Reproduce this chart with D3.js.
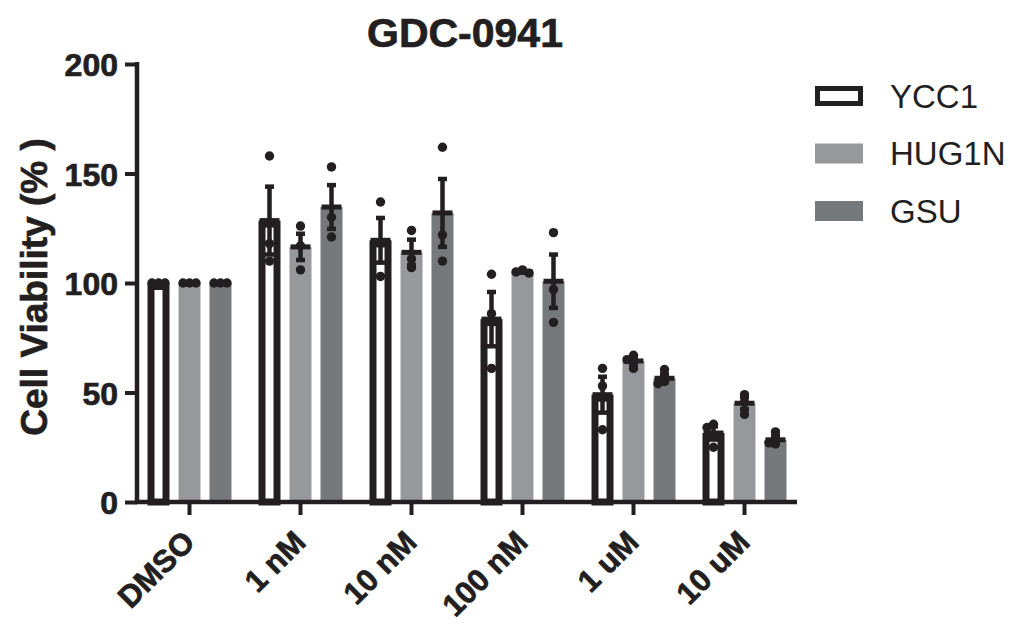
<!DOCTYPE html>
<html>
<head>
<meta charset="utf-8">
<script src="https://cdn.jsdelivr.net/npm/d3@7"></script>
<style>
  body { margin: 0; background: #fff; }
  svg text { font-family: "Liberation Sans", Arial, sans-serif; fill: #231f20; }
  svg text.heavy { stroke: #231f20; stroke-width: 0.7px; }
</style>
</head>
<body>
<svg id="chart" width="1013" height="624"></svg>
<script>
"use strict"

// ---- data ----
const categories = ["DMSO", "1 nM", "10 nM", "100 nM", "1 uM", "10 uM"];
const series = ["YCC1", "HUG1N", "GSU"];
const yTicks = [0, 50, 100, 150, 200];

const meanYCC1 = [100, 128.5, 119.5, 83.5, 49, 31.5];
const meanHUG1N = [100, 116.5, 114, 105.3, 64.4, 45.1];
const meanGSU = [100, 134.7, 132, 100.8, 56.5, 28.4];

const semYCC1 = [0.3, 15.5, 10.2, 12.4, 8.2, 3];
const semHUG1N = [0.3, 6, 5.8, 0.6, 1.7, 2.7];
const semGSU = [0.3, 10, 15.5, 12.2, 1.8, 1.6];

const ptsYCC1 = [[100, 100, 100], [158, 110, 118], [137, 103, 118], [104, 61, 86], [61, 53, 33], [35.5, 25, 34]];
const ptsHUG1N = [[100, 100, 100], [126, 106, 117], [124, 107, 111], [106, 105, 104.5], [67, 61, 65], [49, 40, 45.5]];
const ptsGSU = [[100, 100, 100], [153, 130, 121], [162, 122, 110], [123, 97, 82], [60.5, 55, 54], [32, 26.5, 27]];

const means = [meanYCC1, meanHUG1N, meanGSU];
const sems = [semYCC1, semHUG1N, semGSU];
const points = [ptsYCC1, ptsHUG1N, ptsGSU];

const ink = "#231f20";
const fills = { YCC1: "#ffffff", HUG1N: "#97989c", GSU: "#76797c" };

//--------------------------- LAYOUT ---------------------------//
const svg = d3.select("#chart");
const axisX = 137;
const axisRight = 797;
const baseY = 502;

const x0 = d3.scaleBand().domain(categories).range([134, 800]);
const x1 = d3.scaleBand().domain(series).range([-42, 42]).paddingInner(0.29);
const y = d3.scaleLinear().domain([0, 200]).range([baseY, 64]);

const center = c => x0(c) + x0.bandwidth() / 2;

//---------------------------- BARS ----------------------------//
const rows = [];
series.forEach((s, si) => {
    categories.forEach((c, ci) => {
        rows.push({ s, c, mean: means[si][ci], sem: sems[si][ci], pts: points[si][ci] });
    });
});

const bw = x1.bandwidth();
const sw = 7; // outline width of the open bars

svg.append("g").selectAll("rect")
    .data(rows)
    .join("rect")
    .attr("x", d => center(d.c) + x1(d.s) + (d.s === "YCC1" ? sw / 2 : 0))
    .attr("width", d => d.s === "YCC1" ? bw - sw : bw)
    .attr("y", d => y(d.mean) + (d.s === "YCC1" ? sw / 2 : 0))
    .attr("height", d => baseY - y(d.mean) - (d.s === "YCC1" ? sw / 2 : 0))
    .attr("fill", d => fills[d.s])
    .attr("stroke", d => d.s === "YCC1" ? ink : "none")
    .attr("stroke-width", sw);

//--------------------------- POINTS ---------------------------//
// spread dots that sit on top of each other
const r = 4.7;
const dots = [];
rows.forEach(d => {
    const cx = center(d.c) + x1(d.s) + bw / 2;
    const placed = [];
    d.pts.forEach(v => {
        const py = y(v);
        const close = placed.filter(p => Math.abs(p - py) < r * 1.6).length;
        const off = close === 0 ? 0 : (close % 2 ? -1 : 1) * Math.ceil(close / 2) * 6.5;
        placed.push(py);
        dots.push({ x: cx + off, y: py });
    });
});

svg.append("g").selectAll("circle")
    .data(dots)
    .join("circle")
    .attr("cx", d => d.x)
    .attr("cy", d => d.y)
    .attr("r", r)
    .attr("fill", ink);

//------------------------- ERROR BARS -------------------------//
const eg = svg.append("g").attr("stroke", ink).attr("fill", "none");
rows.forEach(d => {
    const cx = center(d.c) + x1(d.s) + bw / 2;
    const top = y(d.mean + d.sem);
    const bot = y(d.mean - d.sem);
    eg.append("line").attr("x1", cx).attr("x2", cx).attr("y1", top).attr("y2", bot).attr("stroke-width", 4.5);
    eg.append("line").attr("x1", cx - 4.5).attr("x2", cx + 4.5).attr("y1", top).attr("y2", top).attr("stroke-width", 4.5);
    eg.append("line").attr("x1", cx - 4.5).attr("x2", cx + 4.5).attr("y1", bot).attr("y2", bot).attr("stroke-width", 4.5);
    eg.append("line").attr("x1", cx - 10).attr("x2", cx + 10).attr("y1", y(d.mean)).attr("y2", y(d.mean)).attr("stroke-width", 5);
});

//---------------------------- AXES ----------------------------//
const yAxis = svg.append("g")
    .attr("transform", `translate(${axisX},0)`)
    .call(d3.axisLeft(y).tickValues(yTicks).tickSize(12).tickSizeOuter(0).tickPadding(7));
yAxis.select(".domain").attr("stroke", ink).attr("stroke-width", 4.5).attr("d", `M0,${y(200) - 2}V${baseY + 2}`);
yAxis.selectAll(".tick line").attr("stroke", ink).attr("stroke-width", 4);
yAxis.selectAll(".tick text")
    .attr("class", "heavy")
    .style("font-size", "32px").style("font-weight", "bold")
    .attr("fill", ink).attr("dy", "0.36em");

const xAxis = svg.append("g")
    .attr("transform", `translate(0,${baseY})`)
    .call(d3.axisBottom(x0).tickSize(13).tickSizeOuter(0));
xAxis.select(".domain").remove();
xAxis.selectAll(".tick line").attr("stroke", ink).attr("stroke-width", 4);
xAxis.selectAll(".tick text")
    .attr("class", "heavy")
    .style("font-size", "31px").style("font-weight", "bold")
    .attr("fill", ink)
    .attr("text-anchor", "end")
    .attr("y", 0).attr("dy", 0)
    .attr("transform", "translate(7,42) rotate(-45)");

svg.append("line")
    .attr("x1", axisX - 2).attr("x2", axisRight)
    .attr("y1", baseY).attr("y2", baseY)
    .attr("stroke", ink).attr("stroke-width", 4.5);

//--------------------------- TITLES ---------------------------//
svg.append("text")
    .attr("class", "heavy")
    .attr("x", 465).attr("y", 47)
    .attr("text-anchor", "middle")
    .style("font-size", "41px").style("font-weight", "bold")
    .text("GDC-0941");

svg.append("text")
    .attr("class", "heavy")
    .attr("transform", "translate(47,287) rotate(-90)")
    .attr("text-anchor", "middle")
    .style("font-size", "37px").style("font-weight", "bold")
    .text("Cell Viability (% )");

//--------------------------- LEGEND ---------------------------//
const legend = svg.append("g").attr("transform", "translate(815,96)");
const li = legend.selectAll("g")
    .data(series)
    .join("g")
    .attr("transform", (d, i) => `translate(0,${i * 57.5})`);
li.append("rect")
    .attr("x", d => d === "YCC1" ? 2.5 : 0)
    .attr("y", d => d === "YCC1" ? -7.5 : -10)
    .attr("width", d => d === "YCC1" ? 43 : 48)
    .attr("height", d => d === "YCC1" ? 15 : 20)
    .attr("fill", d => fills[d])
    .attr("stroke", d => d === "YCC1" ? ink : "none")
    .attr("stroke-width", 5);
li.append("text")
    .attr("x", 75).attr("dy", "0.36em")
    .style("font-size", "33px")
    .text(d => d);
</script>
</body>
</html>
